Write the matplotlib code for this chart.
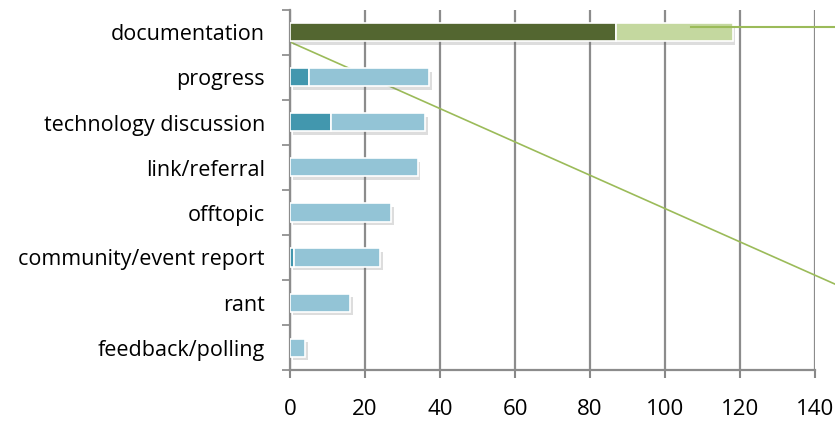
import matplotlib
matplotlib.use("Agg")
import matplotlib.pyplot as plt
import matplotlib.patheffects as pe
import numpy as np

categories = ["documentation", "progress", "technology discussion", "link/referral",
              "offtopic", "community/event report", "rant", "feedback/polling"]
primary = [87, 5, 11, 0, 0, 1, 0, 0]
secondary = [31, 32, 25, 34, 27, 23, 16, 4]
primary_colors = ["#536630"] + ["#4297ae"] * 7
secondary_colors = ["#c4d89f"] + ["#93c4d6"] * 7
xticks = [0, 20, 40, 60, 80, 100, 120, 140]
trend_x = [0, 145.3]
trend_y = [0.21, 5.59]
flat_x = [107, 145.3]
flat_y = [-0.12, -0.12]

plt.rcParams['font.family'] = ['Open Sans', 'DejaVu Sans']

fig = plt.figure(figsize=(8.35, 4.23), dpi=100)
ax = fig.add_axes([290/835, 1-370/423, 525/835, 360/423])

y = np.arange(len(categories))
shadow = [pe.SimplePatchShadow(offset=(2, -2.5), shadow_rgbFace='#666666', alpha=0.22), pe.Normal()]

ax.plot(trend_x, trend_y, color="#9bbb59", lw=1.2, zorder=2, clip_on=False)

b1 = ax.barh(y, primary, height=0.4, color=primary_colors, edgecolor="white", linewidth=1.2, zorder=3)
b2 = ax.barh(y, secondary, left=primary, height=0.4, color=secondary_colors, edgecolor="white", linewidth=1.2, zorder=3)
for bar in list(b1) + list(b2):
    if bar.get_width() > 0:
        bar.set_path_effects(shadow)

ax.plot(flat_x, flat_y, color="#9bbb59", lw=1.5, zorder=4, clip_on=False)

ax.set_xlim(0, 140)
ax.set_ylim(len(categories) - 0.5, -0.5)
ax.set_xticks(xticks)
ax.set_xticklabels([str(v) for v in xticks], fontsize=16)
ax.set_yticks(y)
ax.set_yticklabels(categories, fontsize=15.5)
ax.set_yticks(np.arange(len(categories) + 1) - 0.5, minor=True)
ax.tick_params(axis='y', which='major', length=0, pad=18)
ax.tick_params(axis='y', which='minor', length=6, color="#888888", width=1.2)
ax.tick_params(axis='x', which='major', length=6, color="#888888", width=1.5, pad=15)

ax.grid(axis='x', color="#8c8c8c", lw=1.6, zorder=1)
ax.set_axisbelow(True)
for s in ['top', 'right']:
    ax.spines[s].set_visible(False)
for s in ['left', 'bottom']:
    ax.spines[s].set_color("#8c8c8c")
    ax.spines[s].set_linewidth(1.6)

fig.savefig("out.png", dpi=100)
